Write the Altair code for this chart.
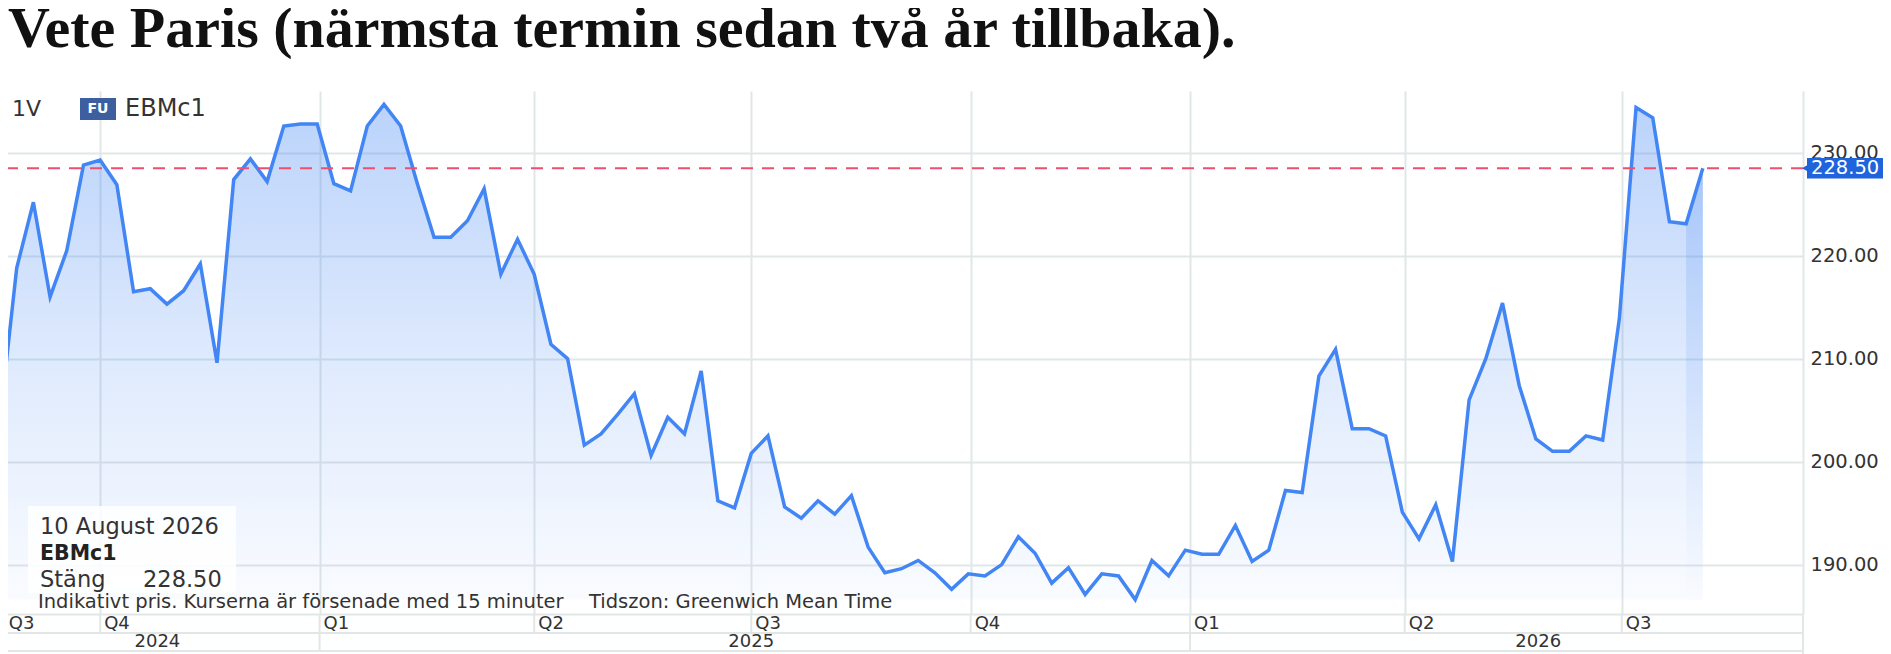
import altair as alt
import pandas as pd

# ---------------- data ----------------
title_text = "Vete Paris (närmsta termin sedan två år tillbaka)."
period_label = "1V"
asset_tag = "FU"
symbol = "EBMc1"
tooltip_date = "10 August 2026"
close_label = "Stäng"
footnote_a = "Indikativt pris. Kurserna är försenade med 15 minuter"
footnote_b = "Tidszon: Greenwich Mean Time"

first_date = "2024-08-20"
prices = [
    204.1, 218.8, 225.2, 216.0, 220.5, 228.8, 229.3, 226.9, 216.5, 216.8,
    215.3, 216.6, 219.2, 209.6, 227.4, 229.4, 227.2, 232.6, 232.8, 232.8,
    227.0, 226.3, 232.6, 234.7, 232.6, 227.0, 221.8, 221.8, 223.4, 226.5,
    218.2, 221.6, 218.2, 211.4, 210.0, 201.6, 202.7, 204.6, 206.6, 200.6,
    204.3, 202.7, 208.8, 196.2, 195.5, 200.8, 202.5, 195.6, 194.5, 196.2,
    194.9, 196.7, 191.7, 189.2, 189.6, 190.4, 189.2, 187.6, 189.1, 188.9,
    190.0, 192.7, 191.1, 188.2, 189.7, 187.1, 189.1, 188.9, 186.6, 190.4,
    188.9, 191.4, 191.0, 191.0, 193.8, 190.3, 191.4, 197.2, 197.0, 208.3,
    210.9, 203.2, 203.2, 202.5, 195.1, 192.5, 195.8, 190.3, 206.0, 210.0,
    215.4, 207.4, 202.2, 201.0, 201.0, 202.5, 202.1, 213.9, 234.4, 233.4,
    223.3, 223.1, 228.5,
]
dates = pd.date_range(first_date, periods=len(prices), freq="7D").strftime("%Y-%m-%d").tolist()

quarter_label_dates = ["2024-08-22", "2024-10-01", "2025-01-01", "2025-04-01", "2025-07-01",
                       "2025-10-01", "2026-01-01", "2026-04-01", "2026-07-01"]
quarter_labels = ["Q3", "Q4", "Q1", "Q2", "Q3", "Q4", "Q1", "Q2", "Q3"]
quarter_starts = quarter_label_dates[1:]
year_starts = ["2025-01-01", "2026-01-01"]
year_label_dates = ["2024-10-25", "2025-07-01", "2026-05-27"]
year_labels = ["2024", "2025", "2026"]
y_ticks = [190, 200, 210, 220, 230]
x_domain = ["2024-08-20", "2026-09-15"]
y_domain = [185.2, 236.0]

# ---------------- style ----------------
W, H = 1803, 523
SANS = "DejaVu Sans"
GRID = "#e1e7e7"
LINE = "#4285f4"
TXT = "#333333"
TAG = "#1f63dd"


def ms(d):
    return int(pd.Timestamp(d).value // 10**6)


df = pd.DataFrame({"date": dates, "price": prices})
last = pd.DataFrame({"price": [prices[-1]], "lbl": [f"{prices[-1]:.2f}"]})
one = pd.DataFrame({"k": [0]})

x_enc = alt.X(
    "date:T",
    scale=alt.Scale(domain=[ms(x_domain[0]), ms(x_domain[1])]),
    axis=alt.Axis(values=[ms(d) for d in quarter_starts], labels=False, ticks=False,
                  grid=True, gridColor=GRID, gridWidth=2, domain=True,
                  domainColor=GRID, domainWidth=2, title=None),
)
y_enc = alt.Y(
    "price:Q",
    scale=alt.Scale(domain=y_domain, nice=False, zero=False),
    axis=alt.Axis(orient="right", values=y_ticks, format=".2f", grid=True,
                  gridColor=GRID, gridWidth=2, ticks=False, domain=True,
                  domainColor=GRID, domainWidth=2, labelFont=SANS, labelFontSize=19.5,
                  labelColor=TXT, labelPadding=7, title=None),
)

fill_grad = alt.Gradient(
    gradient="linear",
    stops=[alt.GradientStop(color="rgba(66,133,244,0.36)", offset=0),
           alt.GradientStop(color="rgba(66,133,244,0.16)", offset=0.55),
           alt.GradientStop(color="rgba(66,133,244,0.03)", offset=1)],
    x1=1, x2=1, y1=0, y2=1,
)
band_grad = alt.Gradient(
    gradient="linear",
    stops=[alt.GradientStop(color="rgba(66,133,244,0.22)", offset=0),
           alt.GradientStop(color="rgba(66,133,244,0.0)", offset=1)],
    x1=1, x2=1, y1=0, y2=1,
)

area = alt.Chart(df).transform_joinaggregate(low="min(price)").mark_area(
    clip=True, fill=fill_grad
).encode(x=x_enc, y=y_enc, y2="low:Q")

band = (
    alt.Chart(df)
    .transform_joinaggregate(low="min(price)")
    .transform_window(rank="row_number()", sort=[alt.SortField("date", order="descending")])
    .transform_filter("datum.rank <= 2")
    .mark_area(clip=True, fill=band_grad)
    .encode(x="date:T", y="price:Q", y2="low:Q")
)

line = alt.Chart(df).mark_line(clip=True, color=LINE, strokeWidth=3.5).encode(
    x="date:T", y="price:Q"
)

ref_rule = alt.Chart(last).mark_rule(color="#ef4f6f", strokeWidth=2, strokeDash=[12, 9]).encode(
    y="price:Q"
)

price_box = alt.Chart(last).transform_calculate(
    lo="datum.price - 1.0", hi="datum.price + 1.0"
).mark_rect(color=TAG).encode(x=alt.value(W + 4), x2=alt.value(W + 80), y="lo:Q", y2="hi:Q")
price_arrow = alt.Chart(last).mark_point(
    shape="triangle-left", filled=True, size=45, color=TAG, opacity=1
).encode(x=alt.value(W + 2), y="price:Q")
price_text = alt.Chart(last).mark_text(
    color="white", font=SANS, fontSize=19.5, align="left", baseline="middle"
).encode(x=alt.value(W + 8), y="price:Q", text="lbl:N")

# x-axis rows below the plot
q_df = pd.DataFrame({"d": quarter_label_dates, "q": quarter_labels})
q_text = alt.Chart(q_df).mark_text(
    align="left", baseline="middle", dx=4, font=SANS, fontSize=18, color=TXT
).encode(x="d:T", y=alt.value(H + 10), text="q:N")
q_sep = alt.Chart(pd.DataFrame({"d": quarter_starts})).mark_rule(color=GRID, strokeWidth=2).encode(
    x="d:T", y=alt.value(H), y2=alt.value(H + 19)
)
y_sep = alt.Chart(pd.DataFrame({"d": year_starts})).mark_rule(color=GRID, strokeWidth=2).encode(
    x="d:T", y=alt.value(H + 19), y2=alt.value(H + 37)
)
yr_text = alt.Chart(pd.DataFrame({"d": year_label_dates, "y": year_labels})).mark_text(
    align="center", baseline="middle", font=SANS, fontSize=18, color=TXT
).encode(x="d:T", y=alt.value(H + 28), text="y:N")
row1 = alt.Chart(one).mark_rule(color=GRID, strokeWidth=2).encode(
    x=alt.value(0), x2=alt.value(W), y=alt.value(H + 19)
)
row2 = alt.Chart(one).mark_rule(color=GRID, strokeWidth=2).encode(
    x=alt.value(0), x2=alt.value(W), y=alt.value(H + 37)
)
axis_ext = alt.Chart(one).mark_rule(color=GRID, strokeWidth=2).encode(
    x=alt.value(W), y=alt.value(H), y2=alt.value(H + 40)
)

# annotations
title = alt.Chart(pd.DataFrame({"t": [title_text]})).mark_text(
    font="Liberation Serif", fontWeight="bold", fontSize=58, color="#111111",
    align="left", baseline="alphabetic"
).encode(x=alt.value(8), y=alt.value(-44), text="t:N")

leg_period = alt.Chart(pd.DataFrame({"t": [period_label]})).mark_text(
    font=SANS, fontSize=22, color=TXT, align="left", baseline="middle"
).encode(x=alt.value(12), y=alt.value(18), text="t:N")
leg_box = alt.Chart(one).mark_rect(color="#3d5f9f").encode(
    x=alt.value(80), x2=alt.value(116), y=alt.value(7), y2=alt.value(29)
)
leg_tag = alt.Chart(pd.DataFrame({"t": [asset_tag]})).mark_text(
    font=SANS, fontSize=14, fontWeight="bold", color="white", align="center", baseline="middle"
).encode(x=alt.value(98), y=alt.value(18), text="t:N")
leg_sym = alt.Chart(pd.DataFrame({"t": [symbol]})).mark_text(
    font=SANS, fontSize=24, color=TXT, align="left", baseline="middle"
).encode(x=alt.value(125), y=alt.value(18), text="t:N")

tip_box = alt.Chart(one).mark_rect(color="white", opacity=0.85).encode(
    x=alt.value(28), x2=alt.value(236), y=alt.value(415), y2=alt.value(502)
)
tip_date = alt.Chart(pd.DataFrame({"t": [tooltip_date]})).mark_text(
    font=SANS, fontSize=22.5, color=TXT, align="left", baseline="middle"
).encode(x=alt.value(40), y=alt.value(436), text="t:N")
tip_sym = alt.Chart(pd.DataFrame({"t": [symbol]})).mark_text(
    font=SANS, fontSize=20.5, fontWeight="bold", color="#222222", align="left", baseline="middle"
).encode(x=alt.value(40), y=alt.value(463), text="t:N")
tip_close = alt.Chart(pd.DataFrame({"t": [close_label]})).mark_text(
    font=SANS, fontSize=22.5, color=TXT, align="left", baseline="middle"
).encode(x=alt.value(40), y=alt.value(489), text="t:N")
tip_val = alt.Chart(last).mark_text(
    font=SANS, fontSize=22.5, color=TXT, align="left", baseline="middle"
).encode(x=alt.value(143), y=alt.value(489), text="lbl:N")

foot_a = alt.Chart(pd.DataFrame({"t": [footnote_a]})).mark_text(
    font=SANS, fontSize=19.5, color=TXT, align="left", baseline="middle"
).encode(x=alt.value(38), y=alt.value(511), text="t:N")
foot_b = alt.Chart(pd.DataFrame({"t": [footnote_b]})).mark_text(
    font=SANS, fontSize=19.5, color=TXT, align="left", baseline="middle"
).encode(x=alt.value(589), y=alt.value(511), text="t:N")

chart = alt.layer(
    area, band, line, ref_rule,
    price_box, price_arrow, price_text,
    q_sep, y_sep, row1, row2, axis_ext, q_text, yr_text,
    title, leg_period, leg_box, leg_tag, leg_sym,
    tip_box, tip_date, tip_sym, tip_close, tip_val,
    foot_a, foot_b,
).properties(
    width=W, height=H,
    padding={"left": -8, "top": 83, "right": 80, "bottom": 40},
    autosize=alt.AutoSizeParams(type="none"),
    background="white",
).configure_view(stroke=None)

chart.save("out.html", embed_options={"renderer": "svg", "actions": False})
